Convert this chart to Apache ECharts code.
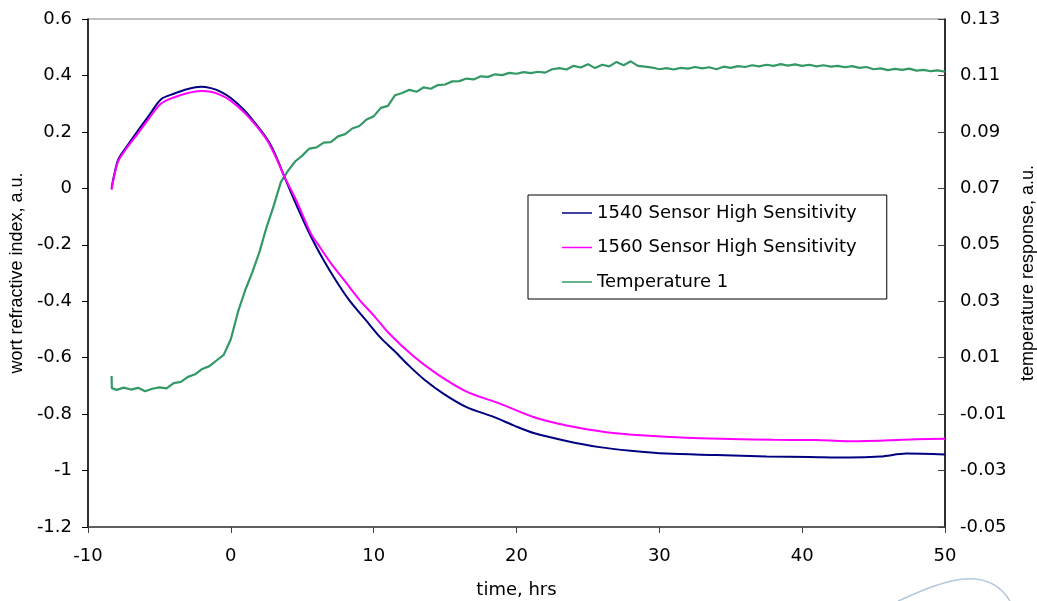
<!DOCTYPE html>
<html><head><meta charset="utf-8">
<script src="https://cdn.jsdelivr.net/npm/echarts@6/dist/echarts.min.js"></script>
<style>html,body{margin:0;padding:0;background:#fff;overflow:hidden}#c{width:1037px;height:601px}</style>
</head><body><div id="c"></div>
<script>
const seriesNames = ['1540 Sensor High Sensitivity','1560 Sensor High Sensitivity','Temperature 1'];
const xTicks = [-10, 0, 10, 20, 30, 40, 50];

const t1540 = [-8.35,-8.2,-7.9,-7.4,-6.5,-5.7,-4.9,-4.0,-3.0,-2.1,-1.4,-0.7,0.0,0.96,1.8,2.6,3.2,3.76,4.6,5.6,6.5,7.4,8.3,9.5,10.5,11.4,12.5,13.6,14.9,16.5,18.4,19.8,21.2,23.5,25.8,28.0,30.5,34.0,37.5,40.5,43.3,45.5,47.3,50.0];
const v1540 = [0.00,0.04,0.10,0.14,0.205,0.26,0.315,0.335,0.352,0.360,0.355,0.342,0.32,0.276,0.225,0.17,0.11,0.04,-0.06,-0.17,-0.255,-0.33,-0.397,-0.47,-0.53,-0.574,-0.63,-0.68,-0.728,-0.775,-0.81,-0.84,-0.867,-0.895,-0.917,-0.93,-0.94,-0.945,-0.95,-0.952,-0.954,-0.95,-0.94,-0.943];

const t1560 = [-8.35,-8.2,-7.9,-7.4,-6.5,-5.7,-4.9,-4.0,-3.0,-2.1,-1.4,-0.7,0.0,0.96,1.8,2.6,3.2,3.76,4.6,5.6,6.23,7.0,8.0,9.03,10.0,11.0,12.77,14.5,16.5,18.84,21.17,23.5,26.3,29.0,31.9,35.0,38.0,41.0,43.1,46.0,48.0,50.0];
const v1560 = [-0.005,0.035,0.095,0.135,0.195,0.25,0.30,0.322,0.338,0.345,0.342,0.33,0.31,0.268,0.22,0.165,0.105,0.04,-0.045,-0.16,-0.208,-0.265,-0.33,-0.397,-0.45,-0.51,-0.594,-0.66,-0.72,-0.763,-0.81,-0.84,-0.864,-0.876,-0.884,-0.888,-0.891,-0.892,-0.896,-0.893,-0.889,-0.887];

const tTemp = [-8.35,-8.33,-8.0,-7.5,-7.0,-6.5,-6.0,-5.5,-5.0,-4.5,-4.0,-3.5,-3.0,-2.5,-2.0,-1.5,-1.0,-0.5,0.0,0.5,1.0,1.5,2.0,2.5,3.0,3.5,4.0,4.5,5.0,5.5,6.0,6.5,7.0,7.5,8.0,8.5,9.0,9.5,10.0,10.5,11.0,11.5,12.0,12.5,13.0,13.5,14.0,14.5,15.0,15.5,16.0,16.5,17.0,17.5,18.0,18.5,19.0,19.5,20.0,20.5,21.0,21.5,22.0,22.5,23.0,23.5,24.0,24.5,25.0,25.5,26.0,26.5,27.0,27.5,28.0,28.5,29.0,29.5,30.0,30.5,31.0,31.5,32.0,32.5,33.0,33.5,34.0,34.5,35.0,35.5,36.0,36.5,37.0,37.5,38.0,38.5,39.0,39.5,40.0,40.5,41.0,41.5,42.0,42.5,43.0,43.5,44.0,44.5,45.0,45.5,46.0,46.5,47.0,47.5,48.0,48.5,49.0,49.5,50.0];
const vTemp = [0.0035,-0.0008,-0.0014,-0.0006,-0.0013,-0.0007,-0.0019,-0.0010,-0.0005,-0.0009,0.0010,0.0014,0.0032,0.0041,0.0060,0.0070,0.0090,0.0110,0.0165,0.0262,0.0338,0.0402,0.0474,0.0562,0.0638,0.0722,0.0762,0.0795,0.0816,0.0841,0.0845,0.0862,0.0864,0.0884,0.0892,0.0912,0.0921,0.0944,0.0955,0.0985,0.0992,0.1030,0.1038,0.1049,0.1042,0.1058,0.1053,0.1066,0.1068,0.1079,0.1080,0.1089,0.1086,0.1097,0.1095,0.1104,0.1101,0.1109,0.1106,0.1112,0.1108,0.1113,0.1110,0.1122,0.1126,0.1121,0.1134,0.1128,0.1140,0.1126,0.1138,0.1132,0.1148,0.1136,0.1150,0.1134,0.1131,0.1128,0.1122,0.1126,0.1121,0.1127,0.1124,0.1130,0.1125,0.1129,0.1122,0.1131,0.1127,0.1133,0.1130,0.1136,0.1132,0.1138,0.1134,0.1140,0.1135,0.1139,0.1134,0.1138,0.1132,0.1136,0.1131,0.1134,0.1129,0.1133,0.1127,0.1130,0.1122,0.1125,0.1119,0.1123,0.1120,0.1124,0.1117,0.1120,0.1115,0.1118,0.1113];

const zip = (a, b) => a.map((x, i) => [x, b[i]]);
const txt = { color: '#000', fontFamily: 'DejaVu Sans', fontSize: 18 };
const vtxt = { color: '#000', fontFamily: 'Liberation Sans', fontSize: 18 };

const chart = echarts.init(document.getElementById('c'), null, { renderer: 'canvas', width: 1037, height: 601 });
chart.setOption({
  animation: false,
  backgroundColor: '#fff',
  grid: { left: 88, width: 857, top: 19, height: 508, show: true, borderColor: '#808080', borderWidth: 1,
          containLabel: false, outerBoundsMode: 'none' },
  legend: {
    orient: 'vertical', left: 528, top: 195,
    data: seriesNames.map(n => ({ name: n, icon: 'rect' })),
    itemWidth: 30, itemHeight: 1.5, itemGap: 14.5,
    padding: [8, 30, 7, 34],
    backgroundColor: '#fff', borderColor: '#000', borderWidth: 1,
    textStyle: Object.assign({}, txt, { lineHeight: 20 }),
    selectedMode: false
  },
  xAxis: {
    type: 'value', min: -10, max: 50, interval: 10,
    name: 'time, hrs', nameLocation: 'middle', nameGap: 54, nameTextStyle: txt,
    axisLine: { show: true, onZero: false, lineStyle: { color: '#404040', width: 1.5 } },
    axisTick: { show: true, inside: false, length: 6, lineStyle: { color: '#404040' } },
    axisLabel: Object.assign({ margin: 20 }, txt),
    splitLine: { show: false }
  },
  yAxis: [
    {
      type: 'value', min: -1.2, max: 0.6, interval: 0.2, position: 'left',
      name: 'wort refractive index, a.u.', nameLocation: 'middle', nameGap: 62, nameTextStyle: vtxt,
      axisLine: { show: true, onZero: false, lineStyle: { color: '#000', width: 1.5 } },
      axisTick: { show: true, inside: false, length: 6, lineStyle: { color: '#000' } },
      axisLabel: Object.assign({ margin: 16, formatter: v => String(+v.toFixed(2)) }, txt),
      splitLine: { show: false }
    },
    {
      type: 'value', min: -0.05, max: 0.13, interval: 0.02, position: 'right',
      name: 'temperature response, a.u.', nameLocation: 'middle', nameGap: 74, nameRotate: 90, nameTextStyle: vtxt,
      axisLine: { show: true, onZero: false, lineStyle: { color: '#000', width: 1.5 } },
      axisTick: { show: true, inside: true, length: 7, lineStyle: { color: '#404040' } },
      axisLabel: Object.assign({ margin: 15, formatter: v => String(+v.toFixed(2)) }, txt),
      splitLine: { show: false }
    }
  ],
  series: [
    { name: seriesNames[0], type: 'line', yAxisIndex: 0, data: zip(t1540, v1540), showSymbol: false, smooth: 0.3,
      lineStyle: { color: '#000080', width: 2 }, itemStyle: { color: '#000080' }, z: 3 },
    { name: seriesNames[1], type: 'line', yAxisIndex: 0, data: zip(t1560, v1560), showSymbol: false, smooth: 0.3,
      lineStyle: { color: '#ff00ff', width: 2 }, itemStyle: { color: '#ff00ff' }, z: 4 },
    { name: seriesNames[2], type: 'line', yAxisIndex: 1, data: zip(tTemp, vTemp), showSymbol: false,
      lineStyle: { color: '#339966', width: 2.2 }, itemStyle: { color: '#339966' }, z: 2 }
  ],
  graphic: [{
    type: 'bezierCurve', silent: true,
    shape: { x1: 898, y1: 601, x2: 1010, y2: 601, cpx1: 935, cpy1: 585, cpx2: 985, cpy2: 560 },
    style: { stroke: '#b4c8dc', lineWidth: 1.5, fill: null }
  }]
});
</script></body></html>
